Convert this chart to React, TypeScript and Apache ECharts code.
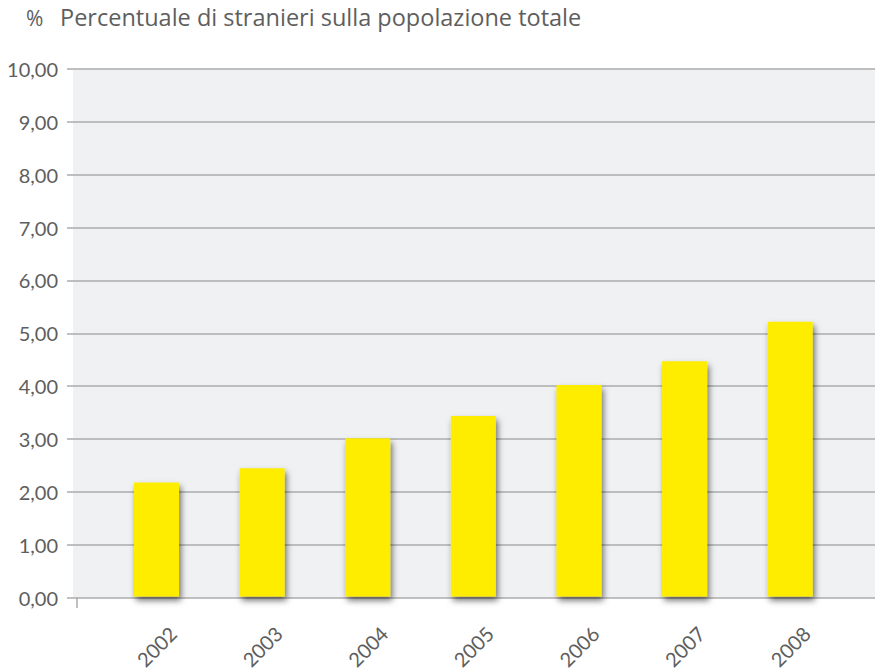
import React, { useEffect, useRef } from "react";
import * as echarts from "echarts";

const years = ["2002", "2003", "2004", "2005", "2006", "2007", "2008"];
const shares = [2.16, 2.43, 3.0, 3.42, 4.01, 4.46, 5.21];
const yTicks = [0, 1, 2, 3, 4, 5, 6, 7, 8, 9, 10];
const unitLabel = "%";
const titleText = "Percentuale di stranieri sulla popolazione totale";

const FONT = "Lato, 'Open Sans', sans-serif";
const TITLE_FONT = "'Open Sans', Lato, sans-serif";
const TEXT = "#5e5e5e";
const GRID_LINE = "#ababad";

export default function App() {
  const ref = useRef<HTMLDivElement>(null);
  useEffect(() => {
    if (!ref.current) return;
    const chart = echarts.init(ref.current, undefined, { renderer: "svg" });
    const top = 69;
    const bottom = 74.5;
    chart.setOption({
      animation: false,
      textStyle: { fontFamily: FONT },
      graphic: [
        {
          type: "text",
          left: 26,
          top: 7,
          style: { text: unitLabel, fill: TEXT, font: `21px ${TITLE_FONT}` },
        },
        {
          type: "text",
          left: 60,
          top: 5,
          style: { text: titleText, fill: TEXT, font: `23.5px ${TITLE_FONT}` },
        },
        {
          type: "line",
          shape: { x1: 77, y1: 597.5, x2: 77, y2: 608 },
          style: { stroke: GRID_LINE, lineWidth: 1.5 },
        },
      ],
      grid: [
        {
          left: 73,
          right: 0,
          top,
          bottom,
          show: true,
          backgroundColor: "#f0f1f3",
          borderWidth: 0,
        },
        { left: 103.7, right: 32, top, bottom },
      ],
      xAxis: [
        { type: "value", gridIndex: 0, show: false, min: 0, max: 1 },
        {
          type: "category",
          gridIndex: 1,
          data: years,
          axisLine: { show: false },
          axisTick: { show: false },
          axisLabel: {
            rotate: 45,
            align: "center",
            verticalAlign: "middle",
            margin: 50,
            color: TEXT,
            fontSize: 20,
            fontFamily: FONT,
          },
        },
      ],
      yAxis: [
        {
          type: "value",
          gridIndex: 0,
          min: yTicks[0],
          max: yTicks[yTicks.length - 1],
          interval: 1,
          axisLine: { show: false },
          axisTick: { show: true, length: 6, lineStyle: { color: GRID_LINE, width: 1.5 } },
          axisLabel: {
            margin: 15,
            color: TEXT,
            fontSize: 20,
            fontFamily: FONT,
            formatter: (v: number) => v.toFixed(2).replace(".", ","),
          },
          splitLine: { show: true, lineStyle: { color: GRID_LINE, width: 1.5 } },
        },
        {
          type: "value",
          gridIndex: 1,
          min: yTicks[0],
          max: yTicks[yTicks.length - 1],
          show: false,
        },
      ],
      series: [
        {
          type: "bar",
          xAxisIndex: 1,
          yAxisIndex: 1,
          data: shares,
          barWidth: 45,
          itemStyle: {
            color: "#ffed00",
            shadowColor: "rgba(0,0,0,0.55)",
            shadowBlur: 6,
            shadowOffsetX: 2,
            shadowOffsetY: 4,
          },
        },
      ],
    });
    return () => chart.dispose();
  }, []);
  return <div ref={ref} style={{ width: 875, height: 672, position: "absolute", left: 0, top: 0 }} />;
}
